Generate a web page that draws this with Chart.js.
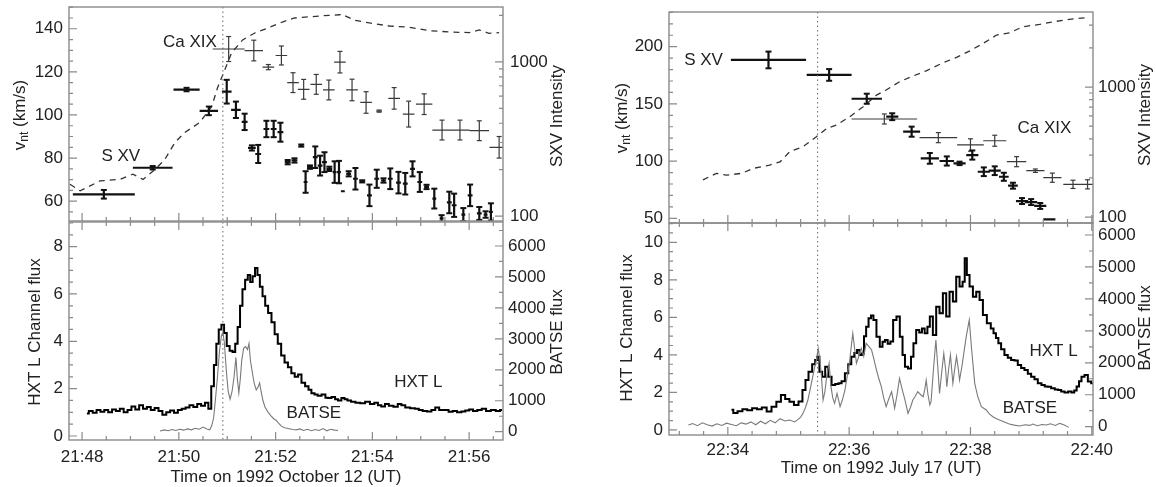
<!DOCTYPE html>
<html>
<head>
<meta charset="utf-8">
<title>SXV line widths and HXT/BATSE flux</title>
<script src="https://cdn.jsdelivr.net/npm/chart.js@4.4.1/dist/chart.umd.min.js"></script>
<style>
  body { margin: 0; background: #fff; width: 1156px; height: 487px; overflow: hidden; position: relative; }
  .panel { position: absolute; }
</style>
</head>
<body>
<div class="panel" style="left:0;top:0;width:580px;height:227px"><canvas id="octTop"></canvas></div>
<div class="panel" style="left:0;top:215px;width:580px;height:272px"><canvas id="octBottom"></canvas></div>
<div class="panel" style="left:590px;top:0;width:566px;height:230px"><canvas id="julTop"></canvas></div>
<div class="panel" style="left:590px;top:216px;width:566px;height:271px"><canvas id="julBottom"></canvas></div>
<script>
// times are minutes after the first labelled tick (21:48 UT and 22:34 UT)
const octStart = 21 * 60 + 48;
const julStart = 22 * 60 + 34;
const octOnset = 2.91;
const julOnset = 1.48;

// tick values
const octTimeTicks = [0, 2, 4, 6, 8];
const julTimeTicks = [0, 2, 4, 6];
const octVntTicks = [60, 80, 100, 120, 140];
const julVntTicks = [50, 100, 150, 200];
const octHxtTicks = [0, 2, 4, 6, 8];
const julHxtTicks = [0, 2, 4, 6, 8, 10];
const batseTicks = [0, 1000, 2000, 3000, 4000, 5000, 6000];

// line widths: [time, half of integration span, v_nt, error]
const octSxv = [
  [0.45,0.64,63.2,2],[1.46,0.41,75.5,0.8],[2.16,0.27,111.8,0.8],[2.62,0.19,101.9,2],[2.99,0.1,110.8,5.5],
  [3.18,0.1,102.4,3.8],[3.36,0.06,96.8,3.8],[3.51,0.08,84.7,1.2],[3.64,0.06,81.9,4.2],[3.81,0.06,93.5,3.8],
  [3.96,0.06,93.5,3.8],[4.10,0.06,92.0,4.4],[4.25,0.06,78.1,1],[4.39,0.06,78.9,1],[4.53,0.04,85.8,0.5],
  [4.62,0.04,68.9,5],[4.71,0.06,75.8,0.8],[4.82,0.05,80.4,5],[4.92,0.05,76.5,4.6],[5.01,0.05,78.1,4.6],
  [5.11,0.06,75.0,1],[5.22,0.04,73.5,5],[5.31,0.04,73.5,5.2],[5.39,0.04,64.6,0],[5.51,0.05,72.7,1.2],
  [5.65,0.05,70.4,5],[5.79,0.05,69.2,0.5],[5.94,0.05,62.7,5],[6.09,0.05,70.4,4.2],[6.23,0.05,69.6,1],
  [6.37,0.05,70.4,4.8],[6.54,0.05,68.6,5],[6.68,0.05,68.1,5],[6.83,0.05,75.0,3.5],[6.98,0.05,68.9,4.6],
  [7.12,0.05,66.6,1],[7.28,0.04,61.2,4.6],[7.43,0.04,52.0,1.5],[7.59,0.05,59.4,5],[7.69,0.05,58.1,5.4],
  [7.88,0.04,53.8,3],[8.02,0.05,62.7,5],[8.21,0.05,54.3,3],[8.34,0.04,53.8,1.5],[8.45,0.04,55.0,4]
];
const octCa = [
  [3.03,0.33,130.6,5.8],[3.55,0.19,129.9,4.8],[3.85,0.12,122.2,1.2],[4.12,0.12,127.6,4.4],[4.36,0.12,115,4.6],
  [4.58,0.12,111.9,4.6],[4.84,0.12,114.2,4.6],[5.10,0.12,111.6,4.6],[5.33,0.12,124.5,5],[5.58,0.12,111.6,5],
  [5.87,0.12,105.8,5],[6.14,0.06,101.8,0.5],[6.45,0.12,107.7,5],[6.75,0.12,100.4,6],[7.07,0.17,105,4.8],
  [7.44,0.2,93,4.6],[7.81,0.2,93,4.6],[8.21,0.2,92.7,4.6],[8.62,0.2,85,5]
];
const julSxv = [
  [0.67,0.62,188.4,7.3],[1.67,0.37,175.3,5.1],[2.29,0.25,154.5,4.4],[2.71,0.1,138.8,3],[3.03,0.14,125.7,4.4],
  [3.33,0.15,102.4,4.7],[3.61,0.12,100.1,4],[3.82,0.1,98.0,1.5],[4.03,0.1,105.3,4],[4.22,0.1,90.7,3.8],
  [4.40,0.1,91.6,3.8],[4.55,0.08,86.3,3.5],[4.70,0.08,78.5,2.6],[4.85,0.1,65.1,2.6],[5.00,0.1,64.2,2.6],
  [5.15,0.1,60.8,2.6],[5.30,0.1,49.1,0]
];
const julCa = [
  [2.58,0.54,136.8,4.4],[3.47,0.31,120.5,4.4],[4.00,0.22,114.1,5.4],[4.40,0.19,117.8,4.8],[4.76,0.16,99.5,4.4],
  [5.07,0.15,91.6,1.5],[5.35,0.15,85.5,4],[5.69,0.16,79.7,3.6],[5.93,0.12,79.7,4]
];

// SXV intensity: [time, counts]
const octIntensity = [
  [-0.25,161],[-0.04,146],[0.37,169],[0.78,173],[1.05,187],[1.26,173],[1.51,201],[1.71,233],[1.92,300],
  [2.12,348],[2.43,404],[2.68,513],[2.80,680],[2.95,888],[3.09,1143],[3.32,1387],[3.57,1538],[3.84,1656],
  [4.14,1811],[4.39,1923],[4.91,1982],[5.32,2018],[5.36,2040],[5.63,1863],[5.94,1786],[6.35,1707],
  [6.76,1675],[7.18,1592],[7.59,1562],[8.0,1546],[8.21,1609],[8.41,1531],[8.62,1546]
];
const julIntensity = [
  [-0.41,193],[-0.19,217],[-0.02,210],[0.23,217],[0.42,237],[0.69,251],[0.86,266],[1.02,318],[1.24,348],
  [1.46,415],[1.63,481],[1.79,511],[2.01,591],[2.23,705],[2.45,868],[2.61,949],[2.83,1099],[3.05,1215],
  [3.27,1334],[3.55,1538],[3.77,1691],[3.99,1900],[4.21,2168],[4.43,2512],[4.65,2617],[4.86,2911],
  [5.14,3034],[5.36,3178],[5.63,3316],[5.96,3436]
];

// HXT L channel flux: [time, flux]
const octHxt = [
  [0.10,0.95],[0.18,1.05],[0.26,0.98],[0.34,1.1],[0.42,1.02],[0.5,1.1],[0.58,1.0],[0.66,1.12],[0.74,1.05],
  [0.82,1.15],[0.9,1.0],[0.98,1.1],[1.06,1.25],[1.14,1.12],[1.22,1.3],[1.3,1.15],[1.38,1.22],[1.46,1.1],
  [1.54,1.18],[1.62,1.05],[1.7,0.9],[1.78,1.0],[1.86,1.08],[1.94,0.98],[2.02,1.1],[2.1,1.15],[2.18,1.2],
  [2.26,1.3],[2.34,1.22],[2.42,1.35],[2.5,1.28],[2.58,1.4],[2.64,1.15],[2.7,2.1],[2.75,3.0],[2.8,3.9],
  [2.85,4.5],[2.91,4.7],[2.96,4.35],[3.02,3.8],[3.08,3.6],[3.14,3.55],[3.19,3.9],[3.24,4.6],[3.29,5.5],
  [3.34,6.2],[3.40,6.6],[3.45,6.8],[3.5,6.5],[3.55,6.75],[3.6,7.1],[3.65,6.8],[3.7,6.3],[3.76,5.9],
  [3.81,5.5],[3.88,5.2],[3.95,4.8],[4.01,4.3],[4.08,3.9],[4.15,3.4],[4.22,3.1],[4.29,2.9],[4.36,2.65],
  [4.43,2.5],[4.5,2.6],[4.57,2.25],[4.65,2.1],[4.71,1.95],[4.77,1.8],[4.84,1.75],[4.9,1.7],[5.0,1.75],
  [5.06,1.62],[5.11,1.6],[5.2,1.65],[5.26,1.55],[5.32,1.5],[5.4,1.6],[5.45,1.55],[5.52,1.5],[5.6,1.45],
  [5.7,1.4],[5.8,1.38],[5.9,1.45],[6.0,1.35],[6.08,1.4],[6.15,1.3],[6.22,1.25],[6.3,1.35],[6.38,1.28],
  [6.49,1.24],[6.56,1.35],[6.64,1.3],[6.72,1.2],[6.84,1.17],[6.92,1.15],[7.0,1.1],[7.08,1.05],[7.18,1.03],
  [7.26,1.1],[7.34,1.2],[7.42,1.1],[7.53,1.1],[7.62,1.02],[7.7,1.05],[7.8,1.0],[7.88,1.03],[7.96,1.08],
  [8.04,1.12],[8.12,1.05],[8.22,1.1],[8.3,1.15],[8.4,1.05],[8.5,1.1],[8.6,1.05],[8.68,1.1]
];
const julHxt = [
  [0.06,1.07],[0.12,0.9],[0.2,1.0],[0.28,1.1],[0.36,1.05],[0.44,1.15],[0.52,1.1],[0.6,1.2],[0.68,0.98],
  [0.76,1.24],[0.84,1.5],[0.91,1.86],[0.98,1.65],[1.05,1.5],[1.13,1.33],[1.2,1.51],[1.26,2.13],[1.3,2.66],
  [1.36,3.1],[1.42,3.5],[1.46,3.73],[1.49,3.9],[1.53,3.1],[1.58,2.84],[1.63,3.37],[1.68,2.84],[1.74,2.4],
  [1.8,2.45],[1.85,2.49],[1.9,2.6],[1.96,3.02],[2.01,3.5],[2.06,3.9],[2.11,4.1],[2.15,4.26],[2.19,4.0],
  [2.23,4.08],[2.26,5.0],[2.3,5.5],[2.34,5.95],[2.38,6.1],[2.42,5.86],[2.48,4.97],[2.53,4.44],[2.57,4.7],
  [2.61,4.79],[2.66,4.6],[2.7,4.71],[2.75,5.86],[2.81,6.04],[2.86,4.97],[2.9,4.0],[2.94,3.37],[3.0,3.28],
  [3.04,3.9],[3.08,4.62],[3.13,5.33],[3.18,5.2],[3.22,5.41],[3.27,5.15],[3.31,5.5],[3.35,6.04],[3.41,5.06],
  [3.46,6.57],[3.52,6.22],[3.57,7.28],[3.63,6.04],[3.68,7.37],[3.74,6.84],[3.79,8.17],[3.85,7.64],[3.89,7.9],
  [3.92,9.15],[3.96,8.26],[4.01,7.64],[4.07,7.1],[4.12,7.37],[4.18,6.93],[4.23,6.13],[4.31,5.68],[4.36,5.4],
  [4.4,5.15],[4.44,4.9],[4.48,4.62],[4.53,4.3],[4.59,4.0],[4.64,3.85],[4.7,3.73],[4.75,3.7],[4.81,3.46],
  [4.86,3.3],[4.92,3.2],[4.97,3.0],[5.03,2.84],[5.08,2.7],[5.14,2.49],[5.2,2.4],[5.25,2.31],[5.3,2.3],
  [5.36,2.22],[5.42,2.15],[5.47,2.13],[5.52,2.05],[5.58,1.99],[5.64,2.05],[5.69,1.99],[5.73,2.1],[5.77,2.31],
  [5.81,2.6],[5.85,2.84],[5.91,2.93],[5.96,2.58],[6.02,2.49]
];

// BATSE counts: [time, counts]
const octBatse = [
  [1.61,20],[1.7,60],[1.78,30],[1.86,70],[1.94,40],[2.02,80],[2.1,50],[2.18,90],[2.26,60],[2.34,110],
  [2.42,80],[2.5,150],[2.58,90],[2.64,60],[2.68,200],[2.72,450],[2.76,1100],[2.8,1800],[2.84,2600],
  [2.88,3100],[2.91,3200],[2.94,2900],[2.98,2000],[3.02,1300],[3.06,1050],[3.1,1300],[3.14,1750],
  [3.18,2400],[3.21,1700],[3.24,1250],[3.27,1700],[3.3,2300],[3.34,2700],[3.38,2750],[3.42,2650],
  [3.45,2850],[3.48,2300],[3.52,1900],[3.56,1550],[3.6,1350],[3.64,1450],[3.67,1580],[3.7,1300],
  [3.74,1000],[3.78,800],[3.84,640],[3.9,520],[3.96,420],[4.01,370],[4.06,280],[4.12,180],[4.18,130],
  [4.24,110],[4.3,90],[4.36,70],[4.43,60],[4.5,90],[4.58,40],[4.66,80],[4.74,30],[4.82,70],[4.9,40],
  [4.98,100],[5.06,30],[5.14,80],[5.22,50],[5.29,40]
];
const julBatse = [
  [-0.65,53],[-0.58,100],[-0.5,30],[-0.42,120],[-0.34,60],[-0.26,20],[-0.18,90],[-0.1,40],[-0.02,110],
  [0.06,70],[0.14,30],[0.22,120],[0.3,80],[0.38,150],[0.46,60],[0.54,170],[0.62,90],[0.7,200],[0.78,120],
  [0.86,250],[0.94,180],[1.02,210],[1.1,150],[1.16,230],[1.2,300],[1.24,418],[1.28,600],[1.32,836],
  [1.36,1200],[1.4,1565],[1.43,1850],[1.46,2087],[1.49,2453],[1.52,2050],[1.54,1670],[1.57,836],[1.6,1100],
  [1.63,1565],[1.67,1983],[1.7,1252],[1.73,900],[1.76,731],[1.8,1044],[1.83,800],[1.85,626],[1.89,850],
  [1.93,1148],[1.97,1600],[2.01,2087],[2.04,2600],[2.06,2922],[2.09,2450],[2.12,1983],[2.15,2150],
  [2.17,2296],[2.2,2453],[2.24,2200],[2.28,2609],[2.33,2500],[2.37,2400],[2.41,2100],[2.45,1774],
  [2.49,1500],[2.53,1252],[2.57,900],[2.61,626],[2.65,850],[2.7,1096],[2.73,800],[2.75,574],[2.79,1000],
  [2.83,1513],[2.87,1200],[2.92,836],[2.97,418],[3.01,600],[3.05,836],[3.09,950],[3.13,1096],[3.18,1000],
  [3.22,940],[3.25,1200],[3.27,1461],[3.3,1000],[3.33,679],[3.35,784],[3.39,1800],[3.43,2713],[3.46,1900],
  [3.49,1044],[3.52,1600],[3.56,2296],[3.59,1800],[3.61,1252],[3.64,1800],[3.67,2244],[3.69,1800],
  [3.71,1357],[3.74,1800],[3.77,2192],[3.8,1800],[3.82,1461],[3.86,1900],[3.89,2296],[3.93,2818],
  [3.98,3340],[4.02,2400],[4.07,1357],[4.12,940],[4.18,626],[4.26,522],[4.31,400],[4.37,313],[4.42,260],
  [4.48,209],[4.56,150],[4.64,83],[4.72,50],[4.81,20],[4.9,60],[4.98,40],[5.03,83],[5.1,30],[5.18,70],
  [5.25,52],[5.32,90],[5.4,40],[5.47,104],[5.54,60],[5.62,-21]
];

const FONT = { family: '"Liberation Sans", Arial, sans-serif', size: 17 };
const TEXT = '#222';
const AXIS = '#8a8a8a';

function fmtTime(start, v) {
  const m = Math.round(start + v);
  return Math.floor(m / 60) + ':' + String(m % 60).padStart(2, '0');
}

// majors plus minor ticks every `step`, inside [lo, hi]
function linTicks(majors, step, lo, hi) {
  const out = [];
  const first = majors[0] - Math.floor((majors[0] - lo) / step) * step;
  for (let i = 0; first + i * step <= hi + 1e-9; i++) {
    const v = Math.round((first + i * step) * 1000) / 1000;
    out.push({ value: v, major: majors.some(m => Math.abs(m - v) < 1e-6) });
  }
  return out;
}

function logTicks(lo, hi) {
  const out = [];
  for (let e = Math.floor(Math.log10(lo)); e <= Math.ceil(Math.log10(hi)); e++) {
    for (let m = 1; m < 10; m++) {
      const v = m * Math.pow(10, e);
      if (v >= lo && v <= hi) out.push({ value: v, major: m === 1 });
    }
  }
  return out;
}

function spans(rows) {
  const out = [];
  rows.forEach(([t, hw, v]) => out.push({ x: t - hw, y: v }, { x: t + hw, y: v }, { x: t, y: null }));
  return out;
}

function errors(rows) {
  const out = [];
  rows.forEach(([t, hw, v, e]) => { if (e > 0) out.push({ x: t, y: v - e }, { x: t, y: v + e }, { x: t, y: null }); });
  return out;
}

const pairs = rows => rows.map(([x, y]) => ({ x, y }));

// frame, inward tick marks, onset marker, titles and labels in IDL style
const idlFrame = {
  id: 'idlFrame',
  afterDatasetsDraw(chart, args, opts) {
    const { ctx, chartArea: a, scales } = chart;
    ctx.save();
    if (opts.onset !== undefined) {
      const px = scales.x.getPixelForValue(opts.onset);
      ctx.strokeStyle = '#666';
      ctx.lineWidth = 1;
      ctx.setLineDash([1.5, 3]);
      ctx.beginPath();
      ctx.moveTo(px, a.top);
      ctx.lineTo(px, a.bottom);
      ctx.stroke();
      ctx.setLineDash([]);
    }
    ctx.strokeStyle = AXIS;
    ctx.lineWidth = 1.4;
    ctx.strokeRect(a.left, a.top, a.right - a.left, a.bottom - a.top);
    ctx.lineWidth = 1.2;
    ctx.beginPath();
    scales.x.ticks.forEach(tk => {
      const p = scales.x.getPixelForValue(tk.value);
      const len = tk.major ? 8 : 4;
      ctx.moveTo(p, a.bottom); ctx.lineTo(p, a.bottom - len);
      if (opts.topTicks) { ctx.moveTo(p, a.top); ctx.lineTo(p, a.top + len); }
    });
    scales.y.ticks.forEach(tk => {
      const p = scales.y.getPixelForValue(tk.value);
      ctx.moveTo(a.left, p); ctx.lineTo(a.left + (tk.major ? 8 : 4), p);
    });
    scales.y2.ticks.forEach(tk => {
      const p = scales.y2.getPixelForValue(tk.value);
      ctx.moveTo(a.right, p); ctx.lineTo(a.right - (tk.major ? 8 : 4), p);
    });
    ctx.stroke();

    ctx.fillStyle = TEXT;
    ctx.font = FONT.size + 'px ' + FONT.family;
    ctx.textAlign = 'center';
    ctx.textBaseline = 'middle';
    (opts.notes || []).forEach(n => {
      ctx.fillText(n.text, scales.x.getPixelForValue(n.x), scales[n.axis].getPixelForValue(n.y));
    });

    (opts.titles || []).forEach(tl => {
      ctx.save();
      ctx.translate(tl.x, tl.y);
      if (tl.vertical) ctx.rotate(-Math.PI / 2);
      const parts = tl.parts;
      const widths = parts.map(p => {
        ctx.font = (p.sub ? 12 : FONT.size) + 'px ' + FONT.family;
        return ctx.measureText(p.text).width;
      });
      let x = -widths.reduce((s, w) => s + w, 0) / 2;
      ctx.textAlign = 'left';
      parts.forEach((p, i) => {
        ctx.font = (p.sub ? 12 : FONT.size) + 'px ' + FONT.family;
        ctx.fillText(p.text, x, p.sub ? 5 : 0);
        x += widths[i];
      });
      ctx.restore();
    });
    ctx.restore();
  }
};

function sized(prop, value) {
  return scale => {
    scale[prop] = value;
    scale.paddingTop = 0; scale.paddingBottom = 0; scale.paddingLeft = 0; scale.paddingRight = 0;
  };
}

const noGrid = { display: false, drawTicks: false };

function makePanel(id, p) {
  return new Chart(document.getElementById(id), {
    type: 'line',
    data: { datasets: p.datasets },
    plugins: [idlFrame],
    options: {
      responsive: true,
      maintainAspectRatio: false,
      animation: false,
      events: [],
      layout: { padding: { top: p.top, left: 0, right: 0, bottom: 0 } },
      elements: { point: { radius: 0 }, line: { tension: 0 } },
      spanGaps: false,
      scales: {
        x: {
          type: 'linear', min: p.x[0], max: p.x[1],
          grid: noGrid, border: { display: false },
          afterBuildTicks: s => { s.ticks = linTicks(p.xTicks, p.xMinor, p.x[0], p.x[1]); },
          afterFit: sized('height', p.xHeight),
          ticks: {
            autoSkip: false, maxRotation: 0, padding: p.xPad, color: TEXT, font: FONT,
            callback: (v, i, t) => (p.xLabels && t[i].major) ? fmtTime(p.start, v) : ''
          }
        },
        y: {
          type: 'linear', position: 'left', min: p.y[0], max: p.y[1],
          grid: noGrid, border: { display: false },
          afterBuildTicks: s => { s.ticks = linTicks(p.yTicks, p.yMinor, p.y[0], p.y[1]); },
          afterFit: sized('width', p.leftWidth),
          ticks: { autoSkip: false, padding: 6, color: TEXT, font: FONT,
            callback: (v, i, t) => t[i].major ? String(v) : '' }
        },
        y2: {
          type: p.y2Log ? 'logarithmic' : 'linear', position: 'right', min: p.y2[0], max: p.y2[1],
          grid: noGrid, border: { display: false },
          afterBuildTicks: s => {
            s.ticks = p.y2Log ? logTicks(p.y2[0], p.y2[1]) : linTicks(batseTicks, 500, p.y2[0], p.y2[1]);
          },
          afterFit: sized('width', p.rightWidth),
          ticks: { autoSkip: false, padding: p.rightPad, color: TEXT, font: FONT,
            callback: (v, i, t) => t[i].major ? String(v) : '' }
        }
      },
      plugins: {
        legend: { display: false },
        tooltip: { enabled: false },
        idlFrame: p.frame
      }
    }
  });
}

function lineWidthSets(sxv, ca, intensity) {
  return [
    { data: spans(sxv), borderColor: '#111', borderWidth: 2.2, order: 1 },
    { data: errors(sxv), borderColor: '#111', borderWidth: 2.2, pointStyle: 'line', pointRadius: 3,
      pointBorderWidth: 2, pointBorderColor: '#111', order: 1 },
    { data: spans(ca), borderColor: '#3a3a3a', borderWidth: 1.2, order: 2 },
    { data: errors(ca), borderColor: '#3a3a3a', borderWidth: 1.2, pointStyle: 'line', pointRadius: 2.5,
      pointBorderWidth: 1.2, pointBorderColor: '#3a3a3a', order: 2 },
    { data: pairs(intensity), yAxisID: 'y2', borderColor: '#333', borderWidth: 1.3,
      borderDash: [6, 5], order: 3 }
  ];
}

function fluxSets(hxt, batse) {
  return [
    { data: pairs(batse), yAxisID: 'y2', borderColor: '#7a7a7a', borderWidth: 1.1, order: 1 },
    { data: pairs(hxt), borderColor: '#000', borderWidth: 2, stepped: 'middle', order: 2 }
  ];
}

const vntTitle = [{ text: 'v' }, { text: 'nt', sub: true }, { text: ' (km/s)' }];

makePanel('octTop', {
  start: octStart, top: 7, xHeight: 5, xPad: 0, leftWidth: 69, rightWidth: 77, rightPad: 7,
  x: [-0.27, 8.70], xTicks: octTimeTicks, xMinor: 0.5, xLabels: false,
  y: [50.8, 150.1], yTicks: octVntTicks, yMinor: 5,
  y2: [93, 2266], y2Log: true,
  datasets: lineWidthSets(octSxv, octCa, octIntensity),
  frame: {
    onset: octOnset,
    notes: [{ text: 'Ca XIX', x: 2.23, y: 133.5, axis: 'y' }, { text: 'S XV', x: 0.8, y: 80.6, axis: 'y' }],
    titles: [
      { parts: vntTitle, x: 20, y: 115, vertical: true },
      { parts: [{ text: 'SXV Intensity' }], x: 557, y: 116, vertical: true }
    ]
  }
});

makePanel('octBottom', {
  start: octStart, top: 7, xHeight: 47, xPad: 7, leftWidth: 69, rightWidth: 77, rightPad: 5,
  x: [-0.27, 8.70], xTicks: octTimeTicks, xMinor: 0.5, xLabels: true,
  y: [-0.17, 9.04], yTicks: octHxtTicks, yMinor: 0.5,
  y2: [-268, 6775], y2Log: false,
  datasets: fluxSets(octHxt, octBatse),
  frame: {
    onset: octOnset, topTicks: true,
    notes: [{ text: 'HXT L', x: 6.95, y: 2.28, axis: 'y' }, { text: 'BATSE', x: 4.79, y: 0.97, axis: 'y' }],
    titles: [
      { parts: [{ text: 'HXT L Channel flux' }], x: 35, y: 117, vertical: true },
      { parts: [{ text: 'BATSE flux' }], x: 557, y: 117, vertical: true },
      { parts: [{ text: 'Time on 1992 October 12 (UT)' }], x: 286, y: 262 }
    ]
  }
});

makePanel('julTop', {
  start: julStart, top: 12, xHeight: 7, xPad: 0, leftWidth: 79, rightWidth: 63, rightPad: 5,
  x: [-0.97, 6.02], xTicks: julTimeTicks, xMinor: 0.4, xLabels: false,
  y: [45.9, 230.3], yTicks: julVntTicks, yMinor: 10,
  y2: [90, 3780], y2Log: true,
  datasets: lineWidthSets(julSxv, julCa, julIntensity),
  frame: {
    onset: julOnset,
    notes: [{ text: 'S XV', x: -0.40, y: 188.4, axis: 'y' }, { text: 'Ca XIX', x: 5.22, y: 128.9, axis: 'y' }],
    titles: [
      { parts: vntTitle, x: 32, y: 118, vertical: true },
      { parts: [{ text: 'SXV Intensity' }], x: 555, y: 115, vertical: true }
    ]
  }
});

makePanel('julBottom', {
  start: julStart, top: 7, xHeight: 52, xPad: 5, leftWidth: 79, rightWidth: 63, rightPad: 5,
  x: [-0.97, 6.02], xTicks: julTimeTicks, xMinor: 0.4, xLabels: true,
  y: [-0.27, 11.03], yTicks: julHxtTicks, yMinor: 0.5,
  y2: [-260, 6376], y2Log: false,
  datasets: fluxSets(julHxt, julBatse),
  frame: {
    onset: julOnset, topTicks: true,
    notes: [{ text: 'HXT L', x: 5.37, y: 4.21, axis: 'y' }, { text: 'BATSE', x: 4.98, y: 1.17, axis: 'y' }],
    titles: [
      { parts: [{ text: 'HXT L Channel flux' }], x: 37, y: 112, vertical: true },
      { parts: [{ text: 'BATSE flux' }], x: 555, y: 112, vertical: true },
      { parts: [{ text: 'Time on 1992 July 17 (UT)' }], x: 291, y: 252 }
    ]
  }
});
</script>
</body>
</html>
